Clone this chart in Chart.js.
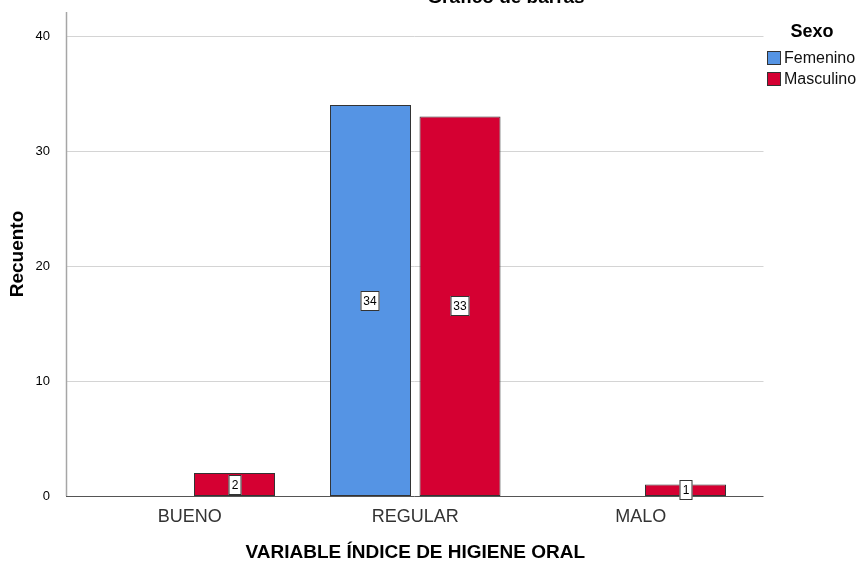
<!DOCTYPE html>
<html>
<head>
<meta charset="utf-8">
<script src="https://cdn.jsdelivr.net/npm/chart.js@4.4.1/dist/chart.umd.min.js"></script>
<style>
  html, body { margin: 0; padding: 0; background: #fff; }
  #wrap { width: 859px; height: 562px; }
</style>
</head>
<body>
<div id="wrap"><canvas id="barChart" width="859" height="562"></canvas></div>
<script>
// Chart data.
const categories = ["BUENO", "REGULAR", "MALO"];
const seriesNames = ["Femenino", "Masculino"];
const femenino = [0, 34, 0];
const masculino = [2, 33, 1];
const yTicks = [0, 10, 20, 30, 40];
const chartTitle = "Gráfico de barras";
const legendTitle = "Sexo";
const xTitle = "VARIABLE ÍNDICE DE HIGIENE ORAL";
const yTitle = "Recuento";

const colors = ["#5594E4", "#D50032"];
const FONT = "'Liberation Sans', Arial, sans-serif";

// Draws gridlines, axis lines, bar labels, title and legend.
const sketchPlugin = {
    id: 'sketch',
    beforeDatasetsDraw(chart) {
        const ctx = chart.ctx;
        const area = chart.chartArea;
        const y = chart.scales.y;
        ctx.save();
        ctx.strokeStyle = "#d4d4d4";
        ctx.lineWidth = 1;
        yTicks.forEach(v => {
            if (v === 0) return;
            const py = Math.round(y.getPixelForValue(v)) + 0.5;
            ctx.beginPath();
            ctx.moveTo(area.left - 11, py);
            ctx.lineTo(area.right + 10, py);
            ctx.stroke();
        });
        ctx.restore();
    },
    afterDatasetsDraw(chart) {
        const ctx = chart.ctx;
        const area = chart.chartArea;
        const y = chart.scales.y;
        ctx.save();
        // y axis line
        ctx.strokeStyle = "#a6a6a6";
        ctx.lineWidth = 1.5;
        ctx.beginPath();
        ctx.moveTo(area.left - 10.5, area.top);
        ctx.lineTo(area.left - 10.5, y.getPixelForValue(0));
        ctx.stroke();
        // x axis line
        ctx.strokeStyle = "#555";
        ctx.lineWidth = 1;
        const py0 = Math.round(y.getPixelForValue(0)) + 0.5;
        ctx.beginPath();
        ctx.moveTo(area.left - 11, py0);
        ctx.lineTo(area.right + 10, py0);
        ctx.stroke();

        // value labels
        ctx.font = "12px " + FONT;
        ctx.textAlign = "center";
        ctx.textBaseline = "middle";
        chart.data.datasets.forEach((ds, di) => {
            const meta = chart.getDatasetMeta(di);
            meta.data.forEach((bar, i) => {
                const v = ds.data[i];
                if (!v) return;
                const cx = Math.round(bar.x);
                const cy = Math.round((bar.y + bar.base) / 2);
                const txt = String(v);
                const w = Math.round(ctx.measureText(txt).width) + 6;
                const h = 20;
                ctx.fillStyle = "#fff";
                ctx.fillRect(cx - w / 2, cy - h / 2, w, h);
                ctx.strokeStyle = "#333";
                ctx.lineWidth = 1;
                ctx.strokeRect(cx - w / 2 + 0.5, cy - h / 2 + 0.5, w - 1, h - 1);
                ctx.fillStyle = "#000";
                ctx.fillText(txt, cx, cy + 1);
            });
        });

        // chart title (cut off at top, like the reference)
        ctx.font = "bold 19px " + FONT;
        ctx.fillStyle = "#000";
        ctx.textAlign = "center";
        ctx.textBaseline = "alphabetic";
        ctx.fillText(chartTitle, 506, 3);

        // legend
        ctx.font = "bold 18px " + FONT;
        ctx.fillText(legendTitle, 812, 37);
        ctx.font = "16px " + FONT;
        ctx.textAlign = "left";
        ctx.textBaseline = "middle";
        seriesNames.forEach((name, i) => {
            const top = 51 + i * 21;
            ctx.fillStyle = colors[i];
            ctx.fillRect(767, top, 14, 14);
            ctx.strokeStyle = "#333";
            ctx.strokeRect(767.5, top + 0.5, 13, 13);
            ctx.fillStyle = "#111";
            ctx.fillText(name, 784, top + 8);
        });
        ctx.restore();
    }
};

const ctx = document.getElementById('barChart').getContext('2d');
const myChart = new Chart(ctx, {
    type: 'bar',
    data: {
        labels: categories,
        datasets: [
            { label: seriesNames[0], data: femenino, backgroundColor: colors[0] },
            { label: seriesNames[1], data: masculino, backgroundColor: colors[1] }
        ]
    },
    options: {
        responsive: false,
        animation: false,
        events: [],
        layout: { padding: { left: 0, right: 105.5, top: 12, bottom: 0 } },
        datasets: {
            bar: {
                categoryPercentage: 0.794,
                barPercentage: 0.905,
                borderColor: "#333",
                borderWidth: (c) => (c.raw ? 1 : 0),
                borderSkipped: false
            }
        },
        plugins: {
            legend: { display: false },
            title: { display: false },
            tooltip: { enabled: false }
        },
        scales: {
            x: {
                grid: { display: false },
                border: { display: false },
                ticks: {
                    color: "#333",
                    padding: 2,
                    font: { family: FONT, size: 18 }
                },
                title: {
                    display: true,
                    text: xTitle,
                    color: "#000",
                    font: { family: FONT, size: 19, weight: 'bold', lineHeight: 1 },
                    padding: { top: 0, bottom: 0 }
                },
                afterFit(scale) { scale.height = 66; }
            },
            y: {
                min: 0,
                max: 42.1,
                grid: { display: false },
                border: { display: false },
                ticks: {
                    stepSize: 10,
                    color: "#000",
                    padding: 19,
                    font: { family: FONT, size: 13 }
                },
                afterBuildTicks(scale) {
                    scale.ticks = yTicks.map(v => ({ value: v }));
                },
                title: {
                    display: true,
                    text: yTitle,
                    color: "#000",
                    font: { family: FONT, size: 19, weight: 'bold', lineHeight: 1.2 },
                    padding: { top: 6, bottom: 0 }
                },
                afterFit(scale) {
                    scale.width = 77;
                    scale.paddingTop = 0;
                    scale.paddingBottom = 0;
                }
            }
        }
    },
    plugins: [sketchPlugin]
});
</script>
</body>
</html>
